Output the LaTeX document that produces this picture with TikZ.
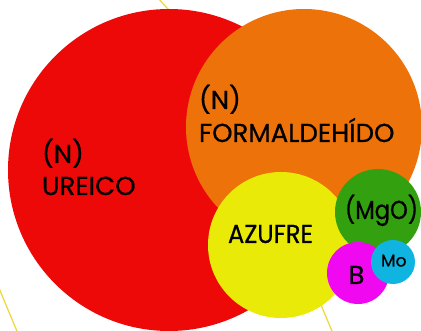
\documentclass[tikz,border=0pt]{standalone}
\usepackage{fontspec}
\setmainfont{Poppins}[FakeBold=0.7]
\definecolor{cred}{RGB}{238,9,9}
\definecolor{corange}{RGB}{238,114,10}
\definecolor{cyellow}{RGB}{234,234,8}
\definecolor{cgreen}{RGB}{50,160,15}
\definecolor{cmagenta}{RGB}{240,8,240}
\definecolor{ccyan}{RGB}{15,180,225}
\definecolor{cline}{RGB}{240,215,70}
\tikzset{
  blob/.style={circle, inner sep=0pt, outer sep=0pt, draw=none},
  lbl/.style={anchor=base west, inner sep=0pt, outer sep=0pt, font=\fontsize{26}{26}\selectfont, text=black},
  bgline/.style={draw=cline, line width=1.3pt},
}
\begin{document}
\begin{tikzpicture}[x=1pt,y=-1pt]
\useasboundingbox (0,0) rectangle (421,331);
% background lines
\coordinate (l1a) at (157,-3); \coordinate (l1b) at (178,20);
\coordinate (l2a) at (-4,281); \coordinate (l2b) at (19,336);
\coordinate (l3a) at (314,288); \coordinate (l3b) at (334,336);
\draw[bgline] (l1a) -- (l1b);
\draw[bgline] (l2a) -- (l2b);
\draw[bgline] (l3a) -- (l3b);
% circles
\node[blob, fill=cred, minimum size=322pt] (ureico) at (169,170) {};
\node[blob, fill=corange, minimum size=236pt] (formal) at (304,127) {};
\node[blob, fill=cyellow, minimum size=146pt] (azufre) at (281,245) {};
\node[blob, fill=cgreen, minimum size=86pt] (mgo) at (378,212) {};
\node[blob, fill=cmagenta, minimum size=62pt] (boro) at (358,273) {};
\node[blob, fill=ccyan, minimum size=44pt] (moli) at (393,262) {};
% labels
\node[lbl] (tN1) at (42,163) {(N)};
\node[lbl] (tU) at (42,195) {UREICO};
\node[lbl] (tN2) at (199,109) {(N)};
\node[lbl] (tF) at (199,142) {FORMALDEHÍDO};
\node[lbl, xscale=0.93] (tA) at (228,243) {AZUFRE};
\node[lbl, xscale=0.87] (tM) at (345,219) {(MgO)};
\node[lbl] (tB) at (348.5,284) {B};
\node[lbl, font=\fontsize{17}{17}\selectfont] (tMo) at (381,266.5) {Mo};
\end{tikzpicture}
\end{document}
